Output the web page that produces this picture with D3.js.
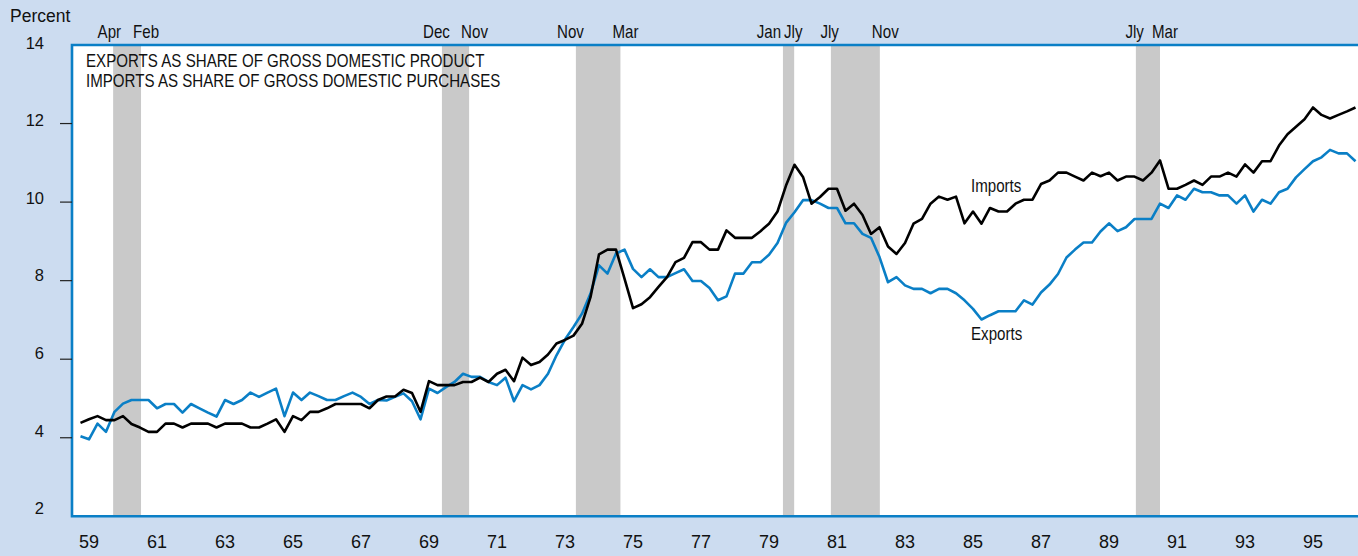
<!DOCTYPE html>
<html>
<head>
<meta charset="utf-8">
<script src="https://cdn.jsdelivr.net/npm/d3@7"></script>
<style>
  body { margin: 0; background: #ccdcf0; }
  svg { display: block; }
</style>
</head>
<body>
<div id="chart"></div>
<script>
// Quarterly shares, 1959:Q1 - 1996:Q3 (percent)
var startYear = 1959;
var exportsShare = [
  4.04, 3.96, 4.36, 4.15, 4.66, 4.87, 4.96, 4.96, 4.96, 4.75,
  4.86, 4.86, 4.64, 4.86, 4.75, 4.64, 4.54, 4.96, 4.86, 4.96,
  5.15, 5.04, 5.15, 5.25, 4.55, 5.15, 4.96, 5.15, 5.06, 4.96,
  4.96, 5.06, 5.15, 5.04, 4.86, 4.96, 4.95, 5.04, 5.13, 4.93,
  4.47, 5.25, 5.14, 5.29, 5.42, 5.63, 5.55, 5.55, 5.42, 5.34,
  5.53, 4.93, 5.34, 5.23, 5.34, 5.63, 6.10, 6.50, 6.82, 7.16,
  7.67, 8.39, 8.18, 8.69, 8.79, 8.30, 8.09, 8.29, 8.09, 8.09,
  8.19, 8.29, 7.99, 7.99, 7.81, 7.50, 7.60, 8.18, 8.18, 8.47,
  8.47, 8.66, 8.96, 9.47, 9.74, 10.05, 10.05, 9.96, 9.85, 9.85,
  9.46, 9.46, 9.19, 9.09, 8.60, 7.96, 8.09, 7.88, 7.79, 7.79,
  7.68, 7.79, 7.79, 7.68, 7.50, 7.28, 7.01, 7.12, 7.22, 7.22,
  7.22, 7.50, 7.39, 7.70, 7.90, 8.17, 8.59, 8.79, 8.97, 8.97,
  9.25, 9.46, 9.26, 9.36, 9.57, 9.57, 9.57, 9.96, 9.85, 10.17,
  10.06, 10.34, 10.25, 10.25, 10.17, 10.17, 9.96, 10.17, 9.76, 10.06,
  9.96, 10.25, 10.34, 10.63, 10.84, 11.04, 11.14, 11.33, 11.24, 11.24,
  11.04
];
var importsShare = [
  4.38, 4.47, 4.55, 4.45, 4.45, 4.55, 4.35, 4.26, 4.15, 4.15,
  4.36, 4.36, 4.26, 4.36, 4.36, 4.36, 4.26, 4.36, 4.36, 4.36,
  4.26, 4.26, 4.36, 4.47, 4.15, 4.55, 4.45, 4.66, 4.66, 4.75,
  4.86, 4.86, 4.86, 4.86, 4.75, 4.96, 5.05, 5.05, 5.22, 5.14,
  4.66, 5.44, 5.34, 5.34, 5.34, 5.42, 5.42, 5.53, 5.42, 5.63,
  5.73, 5.44, 6.04, 5.85, 5.93, 6.12, 6.40, 6.49, 6.60, 6.90,
  7.58, 8.67, 8.79, 8.79, 8.05, 7.30, 7.40, 7.58, 7.84, 8.09,
  8.47, 8.58, 8.98, 8.98, 8.79, 8.79, 9.28, 9.09, 9.09, 9.09,
  9.26, 9.45, 9.76, 10.42, 10.95, 10.64, 9.96, 10.13, 10.34, 10.34,
  9.78, 9.96, 9.67, 9.19, 9.36, 8.87, 8.68, 8.96, 9.45, 9.57,
  9.96, 10.14, 10.06, 10.14, 9.46, 9.76, 9.45, 9.85, 9.76, 9.76,
  9.96, 10.06, 10.06, 10.46, 10.55, 10.75, 10.75, 10.65, 10.55, 10.75,
  10.66, 10.75, 10.55, 10.65, 10.65, 10.55, 10.75, 11.06, 10.34, 10.34,
  10.44, 10.55, 10.44, 10.65, 10.65, 10.75, 10.65, 10.96, 10.75, 11.04,
  11.04, 11.44, 11.73, 11.92, 12.11, 12.41, 12.22, 12.13, 12.22, 12.31,
  12.41
];

// recession bands (decimal years) and their month labels
var recStart = [1960.21, 1969.88, 1973.82, 1979.91, 1981.32, 1990.29];
var recEnd   = [1961.03, 1970.68, 1975.13, 1980.24, 1982.76, 1991.00];
var recFrom  = ["Apr", "Dec", "Nov", "Jan", "Jly", "Jly"];
var recTo    = ["Feb", "Nov", "Mar", "Jly", "Nov", "Mar"];

var yearTicks = [1959, 1961, 1963, 1965, 1967, 1969, 1971, 1973, 1975, 1977,
                 1979, 1981, 1983, 1985, 1987, 1989, 1991, 1993, 1995];
var yTicks = [2, 4, 6, 8, 10, 12, 14];

var W = 1358, H = 556;
var plot = {left: 72, top: 45, right: 1380, bottom: 516.3};
var blue = "#0a7fc6";
var font = "'Liberation Sans', Arial, sans-serif";
var squeeze = 0.84;   // the original lettering is a condensed face

// quarter-end positions
var quarters = exportsShare.map(function(d, i) { return startYear + 0.25 * (i + 1); });

var x = d3.scaleLinear().domain([1959, 1997]).range([72, 72 + 38 * 34]);
var y = d3.scaleLinear().domain([2, 14]).range([plot.bottom, plot.top]);

var svg = d3.select("#chart").append("svg")
  .attr("width", W)
  .attr("height", H);

svg.append("rect")
  .attr("width", W).attr("height", H)
  .attr("fill", "#ccdcf0");

svg.append("defs").append("clipPath").attr("id", "clip")
  .append("rect")
  .attr("x", plot.left).attr("y", plot.top)
  .attr("width", plot.right - plot.left)
  .attr("height", plot.bottom - plot.top);

// narrow text helper
function narrowText(g, tx, ty, str, anchor) {
  return g.append("text")
    .attr("transform", "translate(" + tx + "," + ty + ") scale(" + squeeze + ",1)")
    .attr("text-anchor", anchor || "start")
    .attr("font-family", font)
    .attr("font-size", "18px")
    .attr("fill", "#111")
    .text(str);
}

// plot area
svg.append("rect")
  .attr("x", plot.left).attr("y", plot.top)
  .attr("width", plot.right - plot.left)
  .attr("height", plot.bottom - plot.top)
  .attr("fill", "#ffffff");

// recession shading
svg.append("g").selectAll("rect")
  .data(recStart)
  .enter().append("rect")
    .attr("x", function(d) { return x(d); })
    .attr("y", plot.top)
    .attr("width", function(d, i) { return x(recEnd[i]) - x(d); })
    .attr("height", plot.bottom - plot.top)
    .attr("fill", "#c9c9c9");

// month labels above the bands
var monthG = svg.append("g");
recStart.forEach(function(s, i) {
  var x0 = x(s) + 8, x1 = x(recEnd[i]) - 8;
  if (x1 - x0 < 3) {
    var mid = (x(s) + x(recEnd[i])) / 2 - 6;
    x0 = mid - 1.5; x1 = mid + 1.5;
  }
  narrowText(monthG, x0, 38, recFrom[i], "end");
  narrowText(monthG, x1, 38, recTo[i], "start");
});

// lines
var line = d3.line()
  .x(function(d, i) { return x(quarters[i]); })
  .y(function(d) { return y(d); });

var lines = svg.append("g").attr("clip-path", "url(#clip)");
lines.append("path")
  .datum(exportsShare)
  .attr("d", line)
  .attr("fill", "none")
  .attr("stroke", blue)
  .attr("stroke-width", 2.6)
  .attr("stroke-linejoin", "round");
lines.append("path")
  .datum(importsShare)
  .attr("d", line)
  .attr("fill", "none")
  .attr("stroke", "#000")
  .attr("stroke-width", 2.6)
  .attr("stroke-linejoin", "round");

// frame: left, top and bottom
svg.append("path")
  .attr("d", "M" + (plot.right) + "," + plot.top + "H" + plot.left +
             "V" + plot.bottom + "H" + plot.right)
  .attr("fill", "none")
  .attr("stroke", blue)
  .attr("stroke-width", 2.6);

// y axis ticks and labels
svg.append("g").selectAll("line")
  .data(yTicks.filter(function(d) { return d > 2 && d < 14; }))
  .enter().append("line")
    .attr("x1", 60).attr("x2", plot.left)
    .attr("y1", function(d) { return y(d); })
    .attr("y2", function(d) { return y(d); })
    .attr("stroke", "#222")
    .attr("stroke-width", 1.2);

// labels sit a little above their ticks, more so toward the bottom
svg.append("g").selectAll("text")
  .data(yTicks)
  .enter().append("text")
    .attr("x", 44)
    .attr("y", function(d) { return y(d) - 2 - (14 - d) * 0.5; })
    .attr("dy", "0.35em")
    .attr("text-anchor", "end")
    .attr("font-family", font)
    .attr("font-size", "16.5px")
    .attr("fill", "#111")
    .text(function(d) { return d; });

svg.append("text")
  .attr("x", 10).attr("y", 22)
  .attr("font-family", font)
  .attr("font-size", "17.5px")
  .attr("fill", "#111")
  .text("Percent");

// x axis year labels
svg.append("g").selectAll("text")
  .data(yearTicks)
  .enter().append("text")
    .attr("x", function(d) { return x(d + 0.5); })
    .attr("y", 548)
    .attr("text-anchor", "middle")
    .attr("font-family", font)
    .attr("font-size", "18px")
    .attr("fill", "#111")
    .text(function(d) { return String(d).slice(2); });

// titles and series labels
var notes = svg.append("g");
narrowText(notes, 86, 67, "EXPORTS AS SHARE OF GROSS DOMESTIC PRODUCT");
narrowText(notes, 86, 87, "IMPORTS AS SHARE OF GROSS DOMESTIC PURCHASES");
narrowText(notes, 971, 192, "Imports");
narrowText(notes, 971, 340, "Exports");
</script>
</body>
</html>
